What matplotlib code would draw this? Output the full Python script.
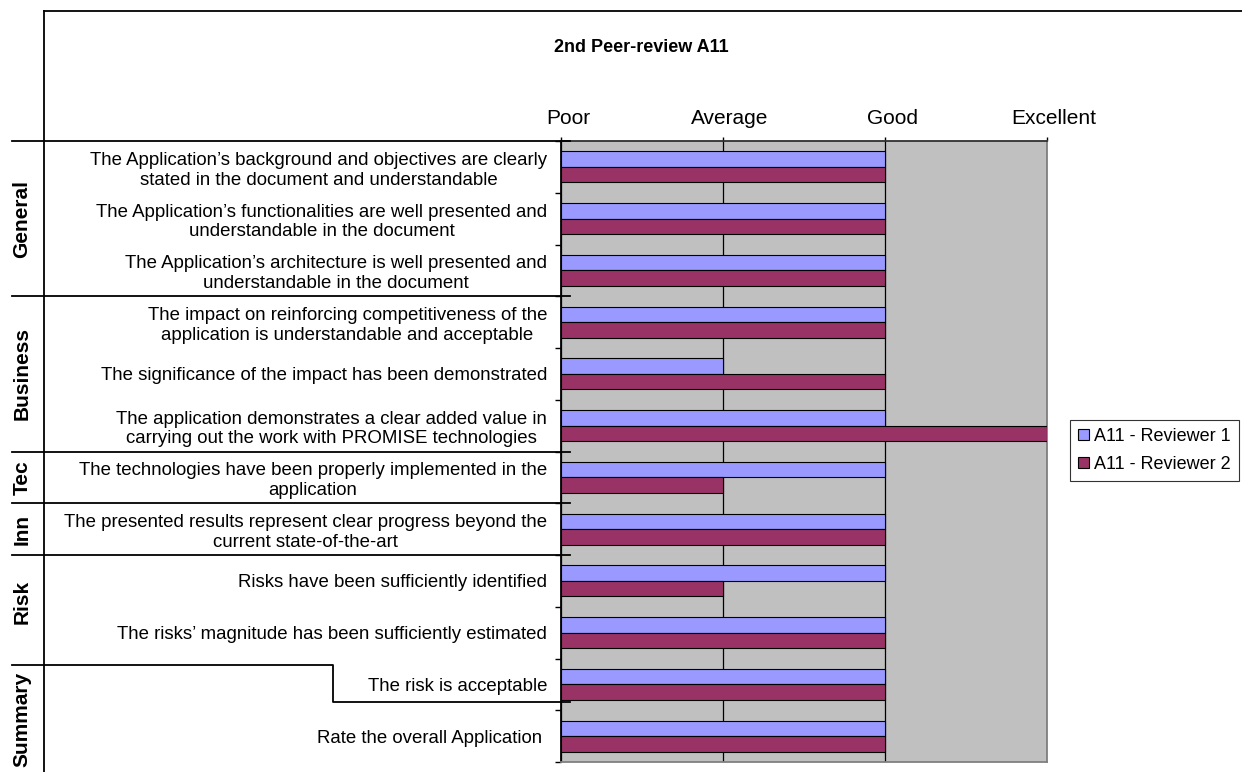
import matplotlib.pyplot as plt
from matplotlib.lines import Line2D
from matplotlib.patches import Patch
from matplotlib.transforms import ScaledTranslation, blended_transform_factory

plt.rcParams['font.family'] = ['Liberation Sans', 'DejaVu Sans']

# Data
title = "2nd Peer-review A11"
questions = [
    "The Application\u2019s background and objectives are clearly\nstated in the document and understandable",
    "The Application\u2019s functionalities are well presented and\nunderstandable in the document",
    "The Application\u2019s architecture is well presented and\nunderstandable in the document",
    "The impact on reinforcing competitiveness of the\napplication is understandable and acceptable",
    "The significance of the impact has been demonstrated",
    "The application demonstrates a clear added value in\ncarrying out the work with PROMISE technologies",
    "The technologies have been properly implemented in the\napplication",
    "The presented results represent clear progress beyond the\ncurrent state-of-the-art",
    "Risks have been sufficiently identified",
    "The risks\u2019 magnitude has been sufficiently estimated",
    "The risk is acceptable",
    "Rate the overall Application ",
]
reviewer1 = [2, 2, 2, 2, 1, 2, 2, 2, 2, 2, 2, 2]
reviewer2 = [2, 2, 2, 2, 2, 3, 1, 2, 1, 2, 2, 2]
series_names = ["A11 - Reviewer 1", "A11 - Reviewer 2"]
scale_labels = ["Poor", "Average", "Good", "Excellent"]
groups = ["General", "Business", "Tec", "Inn", "Risk", "Summary"]
group_sizes = [3, 3, 1, 1, 2, 2]

colors = ["#9999FF", "#993366"]
W, H = 1242, 772

fig = plt.figure(figsize=(W / 100, H / 100), dpi=100)
ax = fig.add_axes([561 / W, 1 - 762 / H, 486 / W, 621 / H])
ax.set_facecolor("#C0C0C0")

n = len(questions)
ypos = list(range(n))
bh = 0.3
ax.barh([y - 0.15 for y in ypos], reviewer1, height=bh, color=colors[0],
        edgecolor="black", linewidth=0.8, zorder=3)
ax.barh([y + 0.15 for y in ypos], reviewer2, height=bh, color=colors[1],
        edgecolor="black", linewidth=0.8, zorder=3)

ax.set_xlim(0, len(scale_labels) - 1)
ax.set_ylim(n - 0.5, -0.5)

# x scale on top, labels nudged right like the original
ax.xaxis.tick_top()
ax.set_xticks(range(len(scale_labels)))
ax.set_xticklabels(scale_labels, fontsize=15)
ax.tick_params(axis="x", length=3, width=1, pad=6, color="black")
shift = ScaledTranslation(7 / 100, 0, fig.dpi_scale_trans)
for lab in ax.get_xticklabels():
    lab.set_transform(lab.get_transform() + shift)
ax.grid(axis="x", color="black", linewidth=0.9, zorder=1)
ax.set_axisbelow(True)

# questions as y tick labels, boundary ticks as minor ticks
ax.set_yticks(ypos)
ax.set_yticklabels(questions, fontsize=13.4, linespacing=1.22,
                   multialignment="center")
ax.set_yticks([y - 0.5 for y in ypos] + [n - 0.5], minor=True)
ax.tick_params(axis="y", which="major", length=0, pad=10)
ax.tick_params(axis="y", which="minor", length=4.5, width=1, color="black")

ax.spines["left"].set_color("black")
ax.spines["top"].set_color("#303030")
ax.spines["right"].set_color("#808080")
ax.spines["bottom"].set_color("#808080")
for s in ax.spines.values():
    s.set_linewidth(1.3)

# outer frame and group separators
tr = blended_transform_factory(fig.transFigure, ax.transData)
lk = dict(color="black", linewidth=1.3)
fig.add_artist(Line2D([44 / W, 1], [1 - 11 / H, 1 - 11 / H], transform=fig.transFigure, **lk))
fig.add_artist(Line2D([44 / W, 44 / W], [1 - 11 / H, 0], transform=fig.transFigure, **lk))
start = 0
bounds = []
for size in group_sizes[:-1]:
    bounds.append(start - 0.5)
    start += size
bounds.append(start - 0.5)
for b in bounds[:-1]:
    fig.add_artist(Line2D([12 / W, 570 / W], [b, b], transform=tr, **lk))
b = bounds[-1]
fig.add_artist(Line2D([12 / W, 333 / W, 333 / W, 570 / W],
                      [b + 0.12, b + 0.12, b + 0.84, b + 0.84], transform=tr, **lk))

group_y = [1, 4, 6, 7, 8.4, 10.68]
for name, gy in zip(groups, group_y):
    fig.text(22 / W, gy, name, transform=tr, rotation=90, fontsize=15,
             fontweight="bold", ha="center", va="center")

fig.text(641 / W, 1 - 47 / H, title, fontsize=13, fontweight="bold",
         ha="center", va="center")

handles = [Patch(facecolor=c, edgecolor="black", linewidth=0.8) for c in colors]
leg = fig.legend(handles, series_names, loc="upper left",
                 bbox_to_anchor=(1070 / W, 1 - 420 / H), fontsize=13,
                 frameon=True, fancybox=False, edgecolor="black",
                 handlelength=0.6, handleheight=0.6, handletextpad=0.3,
                 borderpad=0.45, labelspacing=0.6, borderaxespad=0)
leg.get_frame().set_linewidth(0.8)

fig.savefig("out.png", dpi=100)
